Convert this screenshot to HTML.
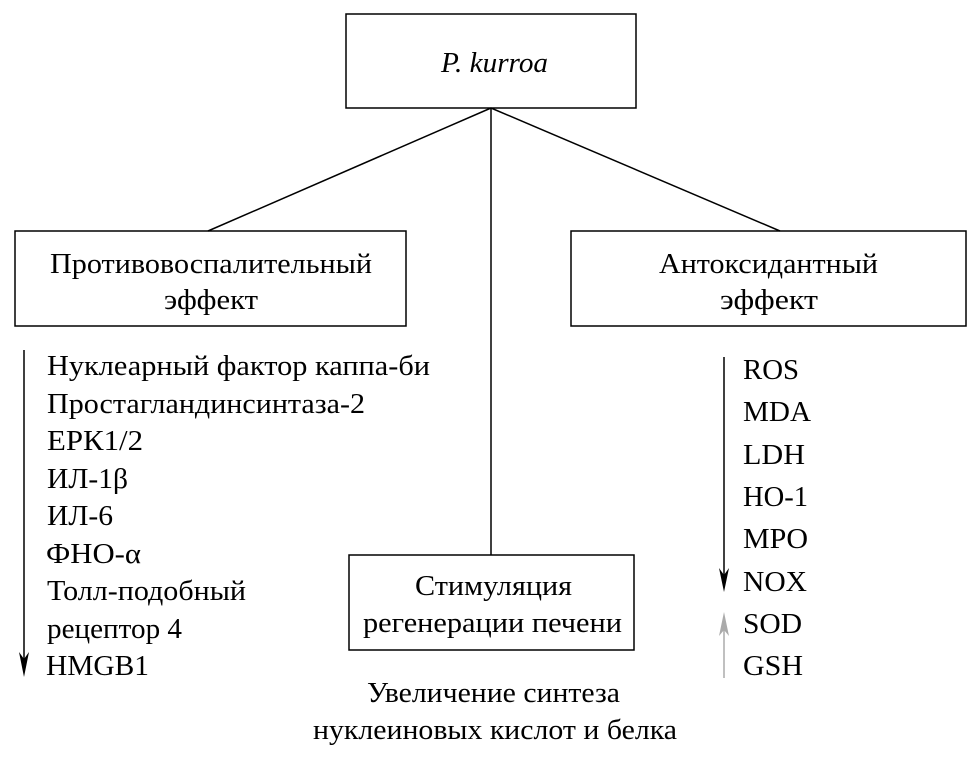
<!DOCTYPE html>
<html><head><meta charset="utf-8"><style>
html,body{margin:0;padding:0;background:#fff;}
svg text{font-family:"Liberation Serif",serif;font-size:29px;fill:#000;}
</style></head><body>
<svg width="974" height="752" viewBox="0 0 974 752" xmlns="http://www.w3.org/2000/svg">
<g fill="none" stroke="#000" stroke-width="1.5">
<rect x="346" y="14" width="290" height="94"/>
<rect x="15" y="231" width="391" height="95"/>
<rect x="571" y="231" width="395" height="95"/>
<rect x="349" y="555" width="285" height="95"/>
<line x1="491" y1="108" x2="208" y2="231"/>
<line x1="491" y1="108" x2="780" y2="231"/>
<line x1="491" y1="108" x2="491" y2="555"/>
<line x1="24" y1="350" x2="24" y2="660"/>
<line x1="724" y1="357" x2="724" y2="578"/>
</g>
<path d="M19,652 L24,677 L29,652 L24,659 Z" fill="#000"/>
<path d="M719,568 L724,592 L729,568 L724,575 Z" fill="#000"/>
<line x1="724" y1="625" x2="724" y2="678" stroke="#aaa" stroke-width="1.5"/>
<path d="M719,636 L724,612 L729,636 L724,630 Z" fill="#aaa"/>
<text x="441" y="72" font-style="italic" textLength="107" lengthAdjust="spacingAndGlyphs">P. kurroa</text>
<text x="50" y="273" textLength="322" lengthAdjust="spacingAndGlyphs">Противовоспалительный</text>
<text x="164" y="309" textLength="94" lengthAdjust="spacingAndGlyphs">эффект</text>
<text x="659" y="273" textLength="219" lengthAdjust="spacingAndGlyphs">Антоксидантный</text>
<text x="720" y="309" textLength="98" lengthAdjust="spacingAndGlyphs">эффект</text>
<text x="415" y="595" textLength="157" lengthAdjust="spacingAndGlyphs">Стимуляция</text>
<text x="363" y="632" textLength="259" lengthAdjust="spacingAndGlyphs">регенерации печени</text>
<text x="367" y="702" textLength="253" lengthAdjust="spacingAndGlyphs">Увеличение синтеза</text>
<text x="313" y="739" textLength="364" lengthAdjust="spacingAndGlyphs">нуклеиновых кислот и белка</text>
<text x="47" y="375" textLength="383" lengthAdjust="spacingAndGlyphs">Нуклеарный фактор каппа-би</text>
<text x="47" y="413" textLength="318" lengthAdjust="spacingAndGlyphs">Простагландинсинтаза-2</text>
<text x="47" y="450" textLength="96" lengthAdjust="spacingAndGlyphs">ЕРК1/2</text>
<text x="47" y="488" textLength="81" lengthAdjust="spacingAndGlyphs">ИЛ-1β</text>
<text x="47" y="525" textLength="66" lengthAdjust="spacingAndGlyphs">ИЛ-6</text>
<text x="46" y="563" textLength="95" lengthAdjust="spacingAndGlyphs">ФНО-α</text>
<text x="47" y="600" textLength="199" lengthAdjust="spacingAndGlyphs">Толл-подобный</text>
<text x="47" y="638" textLength="135" lengthAdjust="spacingAndGlyphs">рецептор 4</text>
<text x="46" y="675" textLength="103" lengthAdjust="spacingAndGlyphs">HMGB1</text>
<text x="743" y="379" textLength="56" lengthAdjust="spacingAndGlyphs">ROS</text>
<text x="743" y="421" textLength="68" lengthAdjust="spacingAndGlyphs">MDA</text>
<text x="743" y="464" textLength="62" lengthAdjust="spacingAndGlyphs">LDH</text>
<text x="743" y="506" textLength="65" lengthAdjust="spacingAndGlyphs">HO-1</text>
<text x="743" y="548" textLength="65" lengthAdjust="spacingAndGlyphs">MPO</text>
<text x="743" y="591" textLength="64" lengthAdjust="spacingAndGlyphs">NOX</text>
<text x="743" y="633" textLength="59" lengthAdjust="spacingAndGlyphs">SOD</text>
<text x="743" y="675" textLength="60" lengthAdjust="spacingAndGlyphs">GSH</text>
</svg>
</body></html>
